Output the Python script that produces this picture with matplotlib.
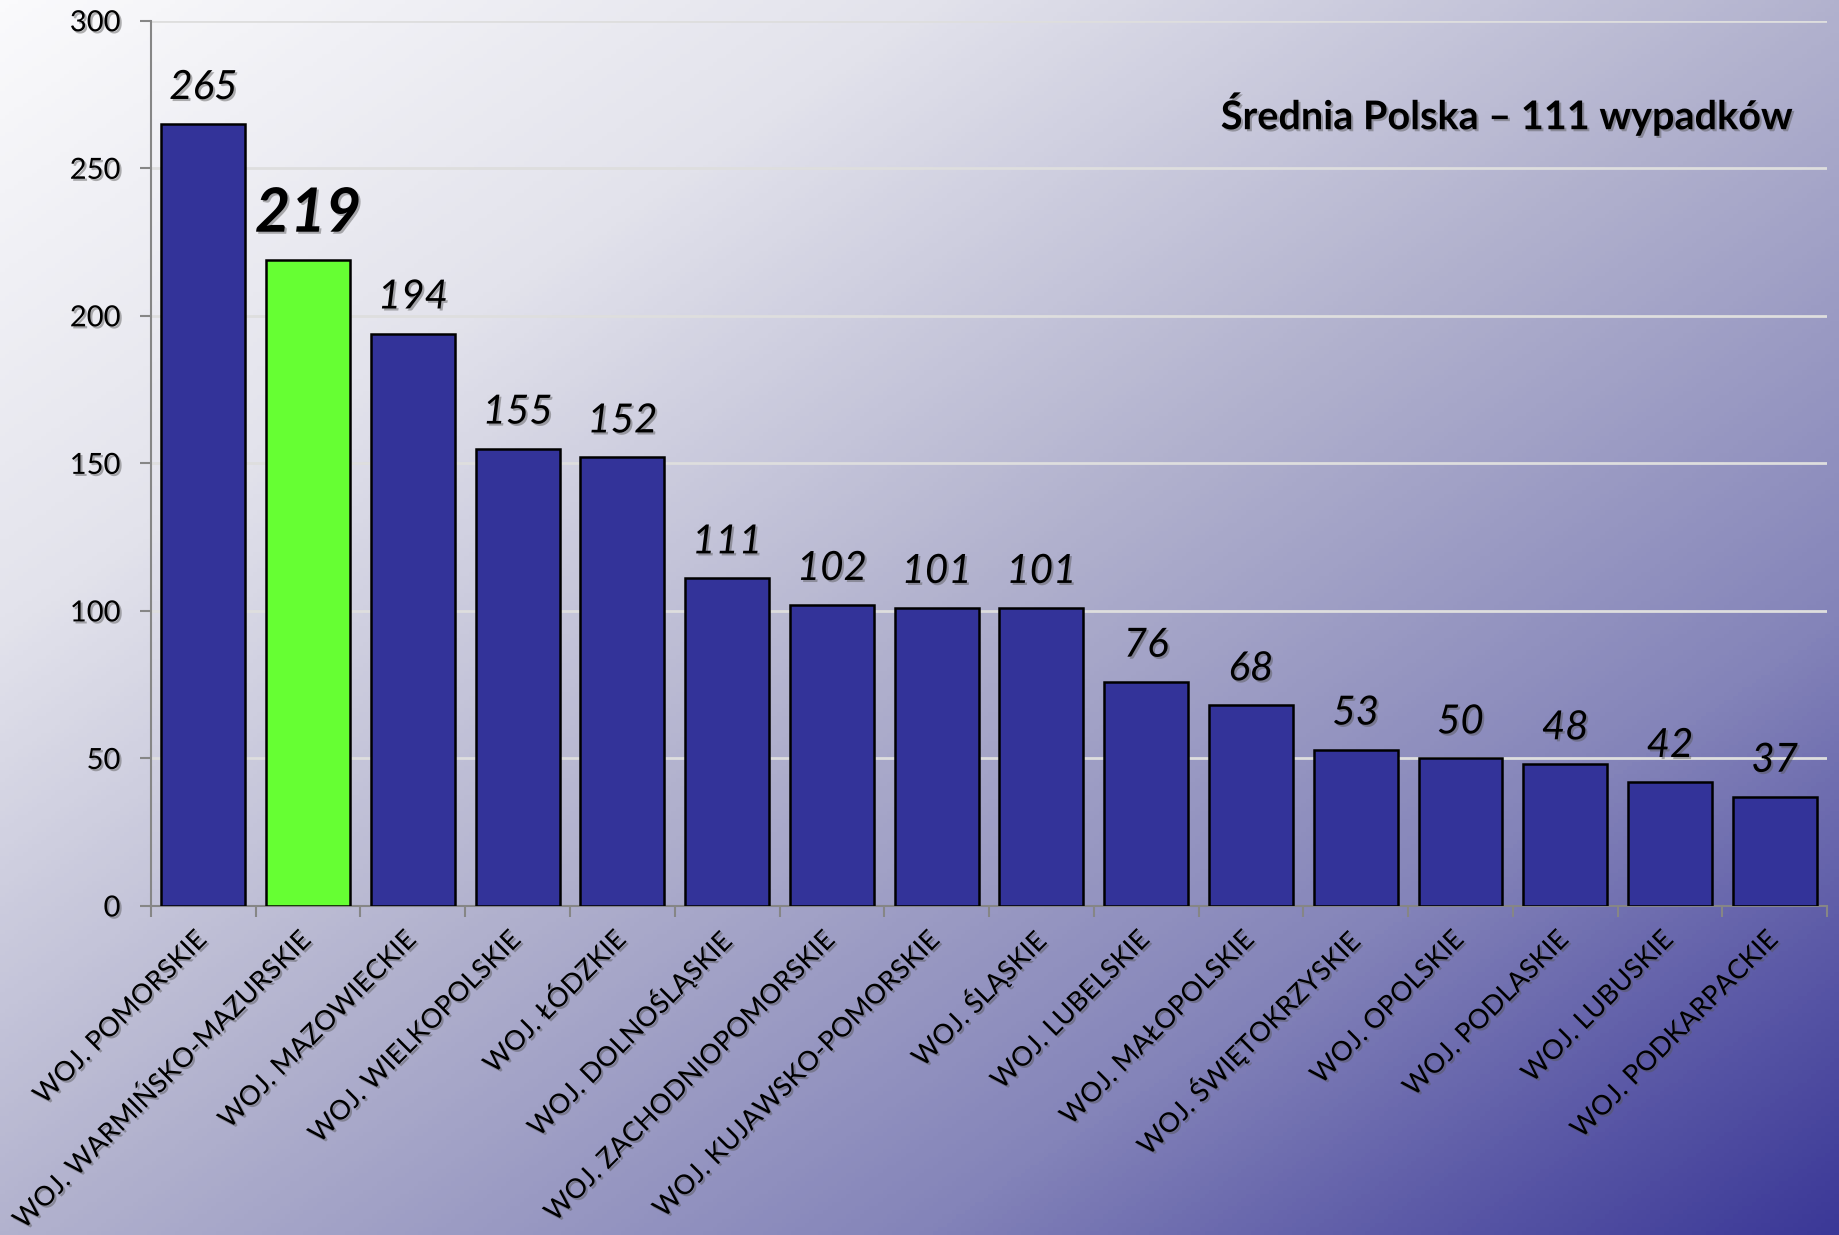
import numpy as np
import matplotlib
matplotlib.use("Agg")
import matplotlib.pyplot as plt
import matplotlib.patheffects as pe
from matplotlib.colors import LinearSegmentedColormap

regions = ["WOJ. POMORSKIE", "WOJ. WARMIŃSKO-MAZURSKIE", "WOJ. MAZOWIECKIE",
           "WOJ. WIELKOPOLSKIE", "WOJ. ŁÓDZKIE", "WOJ. DOLNOŚLĄSKIE",
           "WOJ. ZACHODNIOPOMORSKIE", "WOJ. KUJAWSKO-POMORSKIE", "WOJ. ŚLĄSKIE",
           "WOJ. LUBELSKIE", "WOJ. MAŁOPOLSKIE", "WOJ. ŚWIĘTOKRZYSKIE",
           "WOJ. OPOLSKIE", "WOJ. PODLASKIE", "WOJ. LUBUSKIE", "WOJ. PODKARPACKIE"]
values = [265, 219, 194, 155, 152, 111, 102, 101, 101, 76, 68, 53, 50, 48, 42, 37]
highlight = "WOJ. WARMIŃSKO-MAZURSKIE"
yticks = [0, 50, 100, 150, 200, 250, 300]
note = "Średnia Polska – 111 wypadków"

plt.rcParams['font.family'] = ['Lato', 'DejaVu Sans']

fig = plt.figure(figsize=(18.39, 12.35), dpi=100)

# diagonal background gradient (light top-left -> dark blue bottom-right)
bg = fig.add_axes([0, 0, 1, 1], zorder=-10)
gx, gy = np.meshgrid(np.linspace(0, 1, 400), np.linspace(0, 1, 300))
t = (gx + gy) / 2
cmap = LinearSegmentedColormap.from_list(
    "bg", [(0, "#fafafc"), (0.25, "#e3e3ec"), (0.5, "#b2b2ce"),
           (0.75, "#8484b9"), (0.88, "#5c5aa7"), (1.0, "#3b3897")])
bg.imshow(t, cmap=cmap, aspect="auto", extent=[0, 1, 0, 1], origin="upper")
bg.axis("off")

ax = fig.add_axes([0.0821, 0.2664, 0.9114, 0.7168])
ax.patch.set_alpha(0)

shadow = [pe.withSimplePatchShadow(offset=(1.5, -1.5), shadow_rgbFace="#555555", alpha=0.45)]

x = np.arange(len(regions))
colors = ["#66ff33" if r == highlight else "#333399" for r in regions]
bars = ax.bar(x, values, width=0.8, color=colors, edgecolor="black", linewidth=1.8, zorder=3)

labels = ax.bar_label(bars, padding=13, fontsize=29, fontstyle="italic", zorder=4)
for lab, r in zip(labels, regions):
    lab.set_path_effects(shadow)
    if r == highlight:
        lab.set_fontsize(44)
        lab.set_fontweight("bold")

ax.set_xlim(-0.5, len(regions) - 0.5)
ax.set_ylim(0, 300)
ax.set_yticks(yticks)
ax.yaxis.grid(True, color="#dedede", linewidth=2, zorder=0)
ax.set_axisbelow(True)

for s in ["top", "right"]:
    ax.spines[s].set_visible(False)
for s in ["left", "bottom"]:
    ax.spines[s].set_color("#868686")
    ax.spines[s].set_linewidth(1.5)

ax.tick_params(axis="y", length=8, width=1.5, color="#868686", labelsize=21, pad=14)
for lab in ax.get_yticklabels():
    lab.set_path_effects(shadow)

ax.set_xticks(x)
ax.set_xticks(np.arange(-0.5, len(regions)), minor=True)
ax.tick_params(axis="x", which="major", length=0, pad=21)
ax.tick_params(axis="x", which="minor", length=8, width=1.5, color="#868686")
ax.set_xticklabels(regions, rotation=45, ha="right", va="center",
                   rotation_mode="anchor", fontsize=19.5)
for lab in ax.get_xticklabels():
    lab.set_path_effects(shadow)

ax.text(0.98, 0.895, note, transform=ax.transAxes, ha="right", va="center",
        fontsize=28.5, fontweight="bold", path_effects=shadow)

fig.savefig("out.png", dpi=100)
